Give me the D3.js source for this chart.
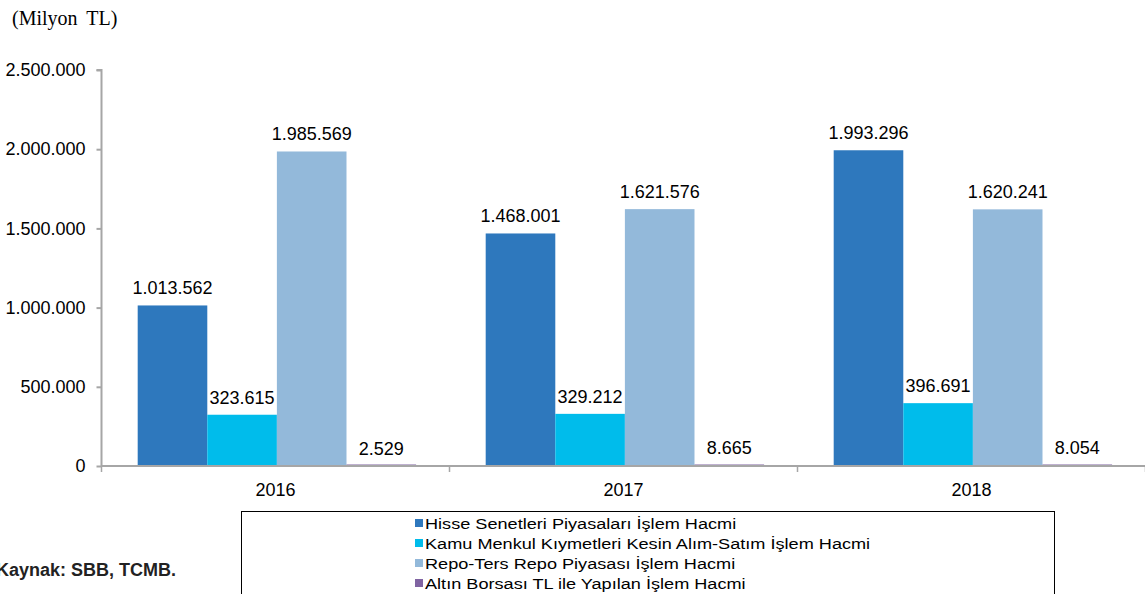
<!DOCTYPE html>
<html>
<head>
<meta charset="utf-8">
<script src="https://cdn.jsdelivr.net/npm/d3@7"></script>
<style>
  body { margin: 0; background: #fff; }
  svg { display: block; }
</style>
</head>
<body>
<svg id="chart" width="1145" height="594"></svg>
<script>
// Years on the category axis
const years = ["2016", "2017", "2018"];

// Series names (legend order)
const seriesNames = [
  "Hisse Senetleri Piyasaları İşlem Hacmi",
  "Kamu Menkul Kıymetleri Kesin Alım-Satım İşlem Hacmi",
  "Repo-Ters Repo Piyasası İşlem Hacmi",
  "Altın Borsası TL ile Yapılan İşlem Hacmi"
];

// Values in million TL, one array per series
const hisse = [1013562, 1468001, 1993296];
const kamu  = [323615, 329212, 396691];
const repo  = [1985569, 1621576, 1620241];
const altin = [2529, 8665, 8054];

const seriesColors = ["#2E78BD", "#00BCEB", "#93B9DA", "#8064A2"];

const yTicks = [0, 500000, 1000000, 1500000, 2000000, 2500000];

const seriesValues = [hisse, kamu, repo, altin];

const svg = d3.select("#chart");
const fontSans = "'Liberation Sans', Arial, sans-serif";

const plot = { left: 101.5, right: 1145.5, top: 70, bottom: 466 };

const fmt = v => d3.format(",")(v).replace(/,/g, ".");

const x = d3.scaleBand().domain(years).range([plot.left, plot.right])
  .paddingInner(0.2).paddingOuter(0.1).align(0.52);
const groupStep = x.step();
const xs = d3.scaleBand().domain(d3.range(seriesNames.length)).range([0, x.bandwidth()]);
const y = d3.scaleLinear().domain([0, 2500000]).range([plot.bottom, plot.top]);

// Unit label
svg.append("text")
  .attr("x", 12).attr("y", 25)
  .attr("font-family", "'Liberation Serif', 'Times New Roman', serif")
  .attr("font-size", 20).attr("fill", "#000")
  .attr("word-spacing", 4)
  .text("(Milyon TL)");

// Bars with value labels
const groups = svg.append("g").selectAll("g")
  .data(years).join("g")
  .attr("transform", d => `translate(${x(d)},0)`);

groups.each(function(yr, yi) {
  const g = d3.select(this);
  seriesValues.forEach((vals, si) => {
    const v = vals[yi];
    const h = Math.max(plot.bottom - y(v), 1.5);
    g.append("rect")
      .attr("x", xs(si)).attr("width", xs.bandwidth())
      .attr("y", plot.bottom - h).attr("height", h)
      .attr("fill", seriesColors[si]);
    g.append("text")
      .attr("x", xs(si) + xs.bandwidth() / 2)
      .attr("y", y(v) - 11)
      .attr("text-anchor", "middle")
      .attr("font-family", fontSans).attr("font-size", 18)
      .attr("fill", "#000")
      .text(fmt(v));
  });
});

// Y axis
const yAxis = d3.axisLeft(y).tickValues(yTicks).tickSize(5).tickPadding(11).tickFormat(fmt);
const gy = svg.append("g").attr("transform", `translate(${plot.left},0)`).call(yAxis);
gy.select(".domain").attr("stroke", "#a6a6a6").attr("stroke-width", 2)
  .attr("d", `M-5,${plot.top}H0V${plot.bottom}`);
gy.selectAll(".tick line").attr("stroke", "#a6a6a6").attr("stroke-width", 2);
gy.selectAll(".tick text").attr("font-family", fontSans).attr("font-size", 18).attr("fill", "#000");

// X axis with category boundary ticks
const gx = svg.append("g").attr("transform", `translate(0,${plot.bottom})`);
gx.append("line").attr("x1", plot.left).attr("x2", plot.right)
  .attr("stroke", "#a6a6a6").attr("stroke-width", 2);
gx.selectAll("line.cat").data(d3.range(years.length + 1)).join("line")
  .attr("class", "cat")
  .attr("x1", i => plot.left + i * groupStep).attr("x2", i => plot.left + i * groupStep)
  .attr("y1", 0).attr("y2", 6)
  .attr("stroke", "#a6a6a6").attr("stroke-width", 1.5);
gx.selectAll("text").data(years).join("text")
  .attr("x", d => plot.left + (years.indexOf(d) + 0.5) * groupStep).attr("y", 30)
  .attr("text-anchor", "middle")
  .attr("font-family", fontSans).attr("font-size", 18).attr("fill", "#000")
  .text(d => d);

// Legend
const legend = svg.append("g");
legend.append("rect")
  .attr("x", 241.5).attr("y", 511.5).attr("width", 813).attr("height", 100)
  .attr("fill", "none").attr("stroke", "#000").attr("stroke-width", 1);
seriesNames.forEach((name, i) => {
  const cy = 523 + i * 20;
  legend.append("rect")
    .attr("x", 415).attr("y", cy - 4).attr("width", 8).attr("height", 8)
    .attr("fill", seriesColors[i]);
  legend.append("text")
    .attr("transform", `translate(425,${cy + 5.5}) scale(1.21,1)`)
    .attr("font-family", fontSans).attr("font-size", 15).attr("fill", "#000")
    .text(name);
});

// Source note
svg.append("text")
  .attr("x", -4).attr("y", 576)
  .attr("font-family", fontSans).attr("font-size", 18).attr("font-weight", "bold")
  .attr("fill", "#222")
  .text("Kaynak: SBB, TCMB.");
</script>
</body>
</html>
